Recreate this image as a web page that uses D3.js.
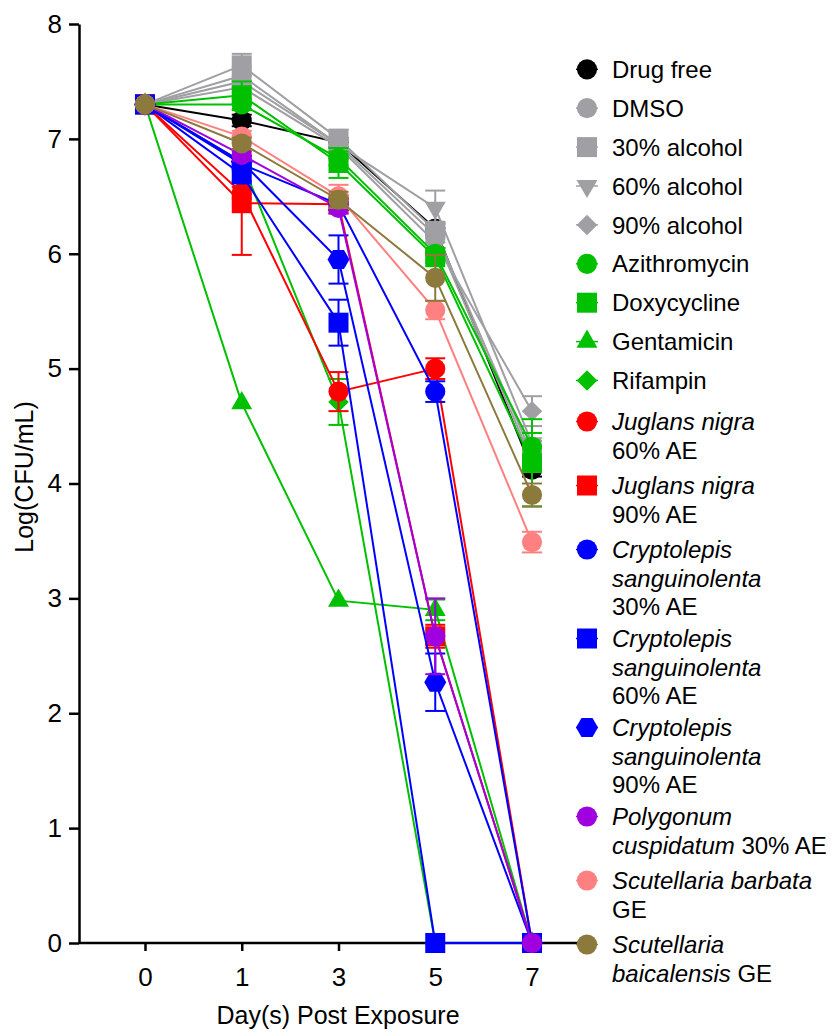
<!DOCTYPE html>
<html>
<head>
<meta charset="utf-8">
<script src="https://cdn.jsdelivr.net/npm/d3@7/dist/d3.min.js"></script>
<style>
  body { margin: 0; background: #fff; }
  text { font-family: "Liberation Sans", Arial, sans-serif; }
</style>
</head>
<body>
<div id="chart"></div>
<script>
// x categories (days) and y ticks
const days = ["0", "1", "3", "5", "7"];
const yTicks = [0, 1, 2, 3, 4, 5, 6, 7, 8];

// mean log(CFU/mL) per day
const drugFree      = [7.3, 7.16, 6.97, 6.22, 4.12];
const dmso          = [7.3, 7.50, 6.95, 6.16, 4.20];
const alcohol30     = [7.3, 7.64, 7.00, 6.20, 4.25];
const alcohol60     = [7.3, 7.55, 6.95, 6.40, 4.35];
const alcohol90     = [7.3, 7.45, 6.93, 6.10, 4.63];
const azithromycin  = [7.3, 7.30, 6.83, 6.00, 4.32];
const doxycycline   = [7.3, 7.38, 6.79, 5.97, 4.18];
const gentamicin    = [7.3, 4.70, 2.98, 2.90, 0];
const rifampin      = [7.3, 6.80, 4.71, 0, 0];
const juglans60     = [7.3, 6.53, 4.80, 5.00, 0];
const juglans90     = [7.3, 6.44, 6.43, 2.67, 0];
const crypto30      = [7.3, 6.78, 6.43, 4.80, 0];
const crypto60      = [7.3, 6.69, 5.40, 0, 0];
const crypto90      = [7.3, 6.80, 5.95, 2.27, 0];
const polygonum30   = [7.3, 6.86, 6.40, 2.67, 0];
const scutBarbata   = [7.3, 7.02, 6.50, 5.51, 3.49];
const scutBaical    = [7.3, 6.96, 6.47, 5.79, 3.90];

// error (SD) per day
const drugFreeErr     = [0, 0.05, 0.04, 0.05, 0.06];
const dmsoErr         = [0, 0.05, 0.04, 0.06, 0.10];
const alcohol30Err    = [0, 0.10, 0.08, 0.06, 0.12];
const alcohol60Err    = [0, 0.08, 0.05, 0.15, 0.15];
const alcohol90Err    = [0, 0.05, 0.05, 0.05, 0.13];
const azithromycinErr = [0, 0.05, 0.06, 0.05, 0.12];
const doxycyclineErr  = [0, 0.12, 0.13, 0.05, 0.38];
const gentamicinErr   = [0, 0, 0, 0.09, 0];
const rifampinErr     = [0, 0.05, 0.20, 0, 0];
const juglans60Err    = [0, 0.05, 0.17, 0.09, 0];
const juglans90Err    = [0, 0.45, 0.05, 0.10, 0];
const crypto30Err     = [0, 0.05, 0.05, 0.09, 0];
const crypto60Err     = [0, 0.06, 0.20, 0, 0];
const crypto90Err     = [0, 0.05, 0.21, 0.25, 0];
const polygonum30Err  = [0, 0.05, 0.05, 0.33, 0];
const scutBarbataErr  = [0, 0.05, 0.10, 0.08, 0.09];
const scutBaicalErr   = [0, 0.05, 0.07, 0.20, 0.10];

// legend labels: each line is a list of [text, italic]
const labels = [
  [[["Drug free", false]]],
  [[["DMSO", false]]],
  [[["30% alcohol", false]]],
  [[["60% alcohol", false]]],
  [[["90% alcohol", false]]],
  [[["Azithromycin", false]]],
  [[["Doxycycline", false]]],
  [[["Gentamicin", false]]],
  [[["Rifampin", false]]],
  [[["Juglans nigra", true]], [["60% AE", false]]],
  [[["Juglans nigra", true]], [["90% AE", false]]],
  [[["Cryptolepis", true]], [["sanguinolenta", true]], [["30% AE", false]]],
  [[["Cryptolepis", true]], [["sanguinolenta", true]], [["60% AE", false]]],
  [[["Cryptolepis", true]], [["sanguinolenta", true]], [["90% AE", false]]],
  [[["Polygonum", true]], [["cuspidatum", true], [" 30% AE", false]]],
  [[["Scutellaria barbata", true]], [["GE", false]]],
  [[["Scutellaria", true]], [["baicalensis", true], [" GE", false]]]
];

const colors = ["#000000", "#a0a0a4", "#a0a0a4", "#a0a0a4", "#a0a0a4",
  "#00c000", "#00c000", "#00c000", "#00c000",
  "#ff0000", "#ff0000", "#0000ff", "#0000ff", "#0000ff",
  "#a000e0", "#ff8080", "#8b7a3c"];
const shapes = ["circle", "circle", "square", "triangleDown", "diamond",
  "circle", "square", "triangle", "diamond",
  "circle", "square", "circle", "square", "hexagon",
  "circle", "circle", "circle"];

const values = [drugFree, dmso, alcohol30, alcohol60, alcohol90, azithromycin,
  doxycycline, gentamicin, rifampin, juglans60, juglans90, crypto30, crypto60,
  crypto90, polygonum30, scutBarbata, scutBaical];
const errors = [drugFreeErr, dmsoErr, alcohol30Err, alcohol60Err, alcohol90Err,
  azithromycinErr, doxycyclineErr, gentamicinErr, rifampinErr, juglans60Err,
  juglans90Err, crypto30Err, crypto60Err, crypto90Err, polygonum30Err,
  scutBarbataErr, scutBaicalErr];

const series = values.map((v, i) => ({
  label: labels[i], color: colors[i], shape: shapes[i],
  points: v.map((d, j) => ({day: days[j], value: d, err: errors[i][j]}))
}));

const W = 831, H = 1032;
const svg = d3.select("#chart").append("svg")
  .attr("width", W).attr("height", H);

const x = d3.scalePoint().domain(days).range([145, 532]);
const y = d3.scaleLinear().domain([0, 8]).range([943, 24]);

// marker path by shape name
function markerPath(shape) {
  if (shape === "circle") return d3.symbol(d3.symbolCircle, 320)();
  if (shape === "square") return d3.symbol(d3.symbolSquare, 400)();
  if (shape === "triangle") return d3.symbol(d3.symbolTriangle, 190)();
  if (shape === "triangleDown") return d3.symbol(d3.symbolTriangle, 190)();
  if (shape === "diamond") return d3.symbol(d3.symbolSquare, 210)();
  if (shape === "hexagon") return "M-11,0L-5.5,-9.5L5.5,-9.5L11,0L5.5,9.5L-5.5,9.5Z";
}
function markerRotate(shape) {
  if (shape === "triangleDown") return " rotate(180)";
  if (shape === "diamond") return " rotate(45)";
  return "";
}

// axes
const yAxis = svg.append("g")
  .attr("transform", "translate(79,0)")
  .call(d3.axisLeft(y).tickValues(yTicks).tickSize(10).tickSizeOuter(0).tickPadding(7));
yAxis.selectAll("text").style("font-size", "26px").attr("fill", "#000");

const xAxis = svg.append("g")
  .attr("transform", "translate(0,943)")
  .call(d3.axisBottom(x).tickSize(8).tickSizeOuter(0).tickPadding(17));
xAxis.select(".domain").attr("d", "M79,0H580");
xAxis.selectAll("text").style("font-size", "26px").attr("fill", "#000");

svg.selectAll(".domain, .tick line").attr("stroke", "#000").attr("stroke-width", 2.5);

svg.append("text")
  .attr("x", 338).attr("y", 1024)
  .attr("text-anchor", "middle")
  .style("font-size", "25px")
  .text("Day(s) Post Exposure");

svg.append("text")
  .attr("transform", "translate(33,477) rotate(-90)")
  .attr("text-anchor", "middle")
  .style("font-size", "25px")
  .text("Log(CFU/mL)");

// series: line, error bars, markers
const line = d3.line().x(d => x(d.day)).y(d => y(d.value));

series.forEach(s => {
  const g = svg.append("g");
  g.append("path")
    .attr("d", line(s.points))
    .attr("fill", "none")
    .attr("stroke", s.color)
    .attr("stroke-width", 2);

  const eb = g.selectAll(".err").data(s.points.filter(p => p.err > 0)).enter().append("g");
  eb.append("line")
    .attr("x1", d => x(d.day)).attr("x2", d => x(d.day))
    .attr("y1", d => y(d.value - d.err)).attr("y2", d => y(d.value + d.err));
  eb.append("line")
    .attr("x1", d => x(d.day) - 10).attr("x2", d => x(d.day) + 10)
    .attr("y1", d => y(d.value + d.err)).attr("y2", d => y(d.value + d.err));
  eb.append("line")
    .attr("x1", d => x(d.day) - 10).attr("x2", d => x(d.day) + 10)
    .attr("y1", d => y(d.value - d.err)).attr("y2", d => y(d.value - d.err));
  eb.selectAll("line").attr("stroke", s.color).attr("stroke-width", 2);

  g.selectAll(".pt").data(s.points).enter().append("path")
    .attr("d", markerPath(s.shape))
    .attr("transform", d => `translate(${x(d.day)},${y(d.value)})` + markerRotate(s.shape))
    .attr("fill", s.color);
});

// legend
const legend = svg.append("g");
let ly = 69.3;
series.forEach((s, i) => {
  const row = legend.append("g").attr("transform", `translate(0,${ly})`);
  row.append("line")
    .attr("x1", 576).attr("x2", 598)
    .attr("stroke", s.color).attr("stroke-width", 1.5);
  row.append("path")
    .attr("d", markerPath(s.shape))
    .attr("transform", "translate(587,0)" + markerRotate(s.shape))
    .attr("fill", s.color);
  s.label.forEach((ln, k) => {
    const t = row.append("text")
      .attr("x", 612).attr("y", 8.6 + k * 28.4)
      .style("font-size", "24px");
    ln.forEach(seg => {
      t.append("tspan")
        .style("font-style", seg[1] ? "italic" : "normal")
        .text(seg[0]);
    });
  });
  const n = s.label.length;
  ly += n === 1 ? (i === 8 ? 41 : 38.9) : (n === 2 ? 64 : 89);
});
</script>
</body>
</html>
